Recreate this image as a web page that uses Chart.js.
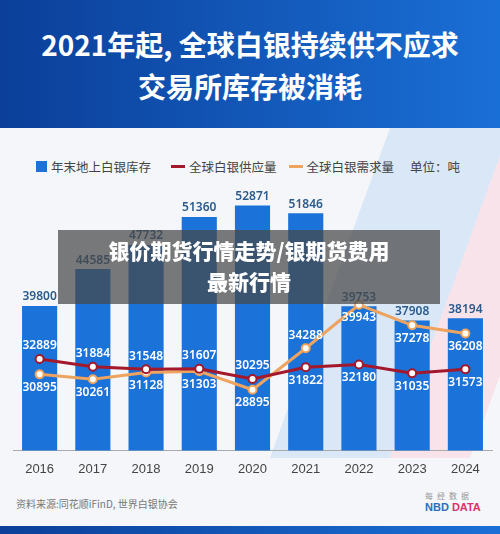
<!DOCTYPE html>
<html><head><meta charset="utf-8">
<script src="https://cdn.jsdelivr.net/npm/chart.js@4"></script>
<style>
body{margin:0;width:500px;height:534px;overflow:hidden;background:#f4f6f9;font-family:"Noto Sans CJK SC","Noto Sans",sans-serif;position:relative}
.head{position:absolute;left:0;top:0;width:500px;height:128px;background:linear-gradient(90deg,#0b3f99,#1a6fd6);color:#fff;text-align:center;font-weight:700;font-size:28px;line-height:42px;padding-top:23px;box-sizing:border-box}
.deco1{position:absolute;left:330px;top:128px;width:120px;height:330px;background:rgba(190,215,245,0.5);transform:skewX(-20deg)}
.deco2{position:absolute;left:450px;top:128px;width:80px;height:330px;background:rgba(250,215,225,0.6);transform:skewX(-20deg)}
.legend{position:absolute;top:157px;left:36px;font-size:12.5px;color:#444;display:flex;align-items:center;white-space:nowrap}
.legend span{display:inline-block;margin-right:4px}
#wrap{position:absolute;left:0;top:180px;width:500px;height:300px}
.ov{position:absolute;left:58px;top:230px;width:382px;height:74px;background:rgba(70,70,70,0.72);color:#fff;font-weight:900;font-size:21px;line-height:31px;text-align:center;padding-top:5px;box-sizing:border-box}
.src{position:absolute;left:16px;top:496px;font-size:10px;color:#777}
.logo{position:absolute;left:425px;top:490px;font-size:8px;color:#999;letter-spacing:4px}
.logo b{display:block;font-size:11px;letter-spacing:0;font-family:"Liberation Sans";color:#2a6cc0}
.logo b i{font-style:normal;color:#e0306a}
.foot{position:absolute;left:0;top:526px;width:500px;height:8px;background:linear-gradient(90deg,#0b3f99,#1a6fd6)}
</style></head><body>
<div class="deco1"></div><div class="deco2"></div>
<div class="head">2021年起, 全球白银持续供不应求<br>交易所库存被消耗</div>
<div class="legend">
<span style="width:11px;height:11px;background:#1b72d8"></span><span style="margin-right:20px">年末地上白银库存</span>
<span style="width:14px;height:3px;background:#a3182b"></span><span style="margin-right:12px">全球白银供应量</span>
<span style="width:14px;height:3px;background:#eea35f"></span><span style="margin-right:16px">全球白银需求量</span>
<span>单位：吨</span></div>
<div id="wrap"><canvas id="c"></canvas></div>
<div class="ov">银价期货行情走势/银期货费用<br>最新行情</div>
<div class="src">资料来源:同花顺iFinD, 世界白银协会</div>
<div class="logo">每经数据<b>NBD <i>DATA</i></b></div>
<div class="foot"></div>
<script>
const years = ['2016','2017','2018','2019','2020','2021','2022','2023','2024'];
const stock = [39800, 44585, 47732, 51360, 52871, 51846, 39753, 37908, 38194];
const supply = [32889, 31884, 31548, 31607, 30295, 31822, 32180, 31035, 31573];
const demand = [30895, 30261, 31128, 31303, 28895, 34288, 39943, 37278, 36208];
const supplyPos = ['top','top','top','top','top','bottom','bottom','bottom','bottom'];
const demandPos = ['bottom','bottom','bottom','bottom','bottom','top','bottom','bottom','bottom'];

const labelPlugin = {
    id: 'labels',
    afterDatasetsDraw(chart) {
        const ctx = chart.ctx;
        ctx.save();
        ctx.textAlign = 'center';
        ctx.font = '600 12px "Noto Sans", sans-serif';
        chart.getDatasetMeta(0).data.forEach((el, i) => {
            ctx.fillStyle = '#2b5b8c';
            ctx.textBaseline = 'bottom';
            ctx.fillText(stock[i], el.x, el.y - 3);
        });
        [[1, supply, supplyPos], [2, demand, demandPos]].forEach(([d, vals, pos]) => {
            chart.getDatasetMeta(d).data.forEach((el, i) => {
                ctx.fillStyle = '#ffffff';
                ctx.textBaseline = pos[i] === 'top' ? 'bottom' : 'top';
                ctx.fillText(vals[i], el.x, pos[i] === 'top' ? el.y - 7 : el.y + 7);
            });
        });
        ctx.restore();
    }
};

new Chart(document.getElementById('c'), {
    data: {
        labels: years,
        datasets: [
            { type: 'bar', data: stock, backgroundColor: '#1b72d8', barPercentage: 0.66, categoryPercentage: 1, order: 3 },
            { type: 'line', data: supply, borderColor: '#a3182b', borderWidth: 3, pointRadius: 4, pointBackgroundColor: '#fff', pointBorderColor: '#a3182b', pointBorderWidth: 2, order: 1 },
            { type: 'line', data: demand, borderColor: '#eea35f', borderWidth: 3, pointRadius: 4, pointBackgroundColor: '#fff', pointBorderColor: '#eea35f', pointBorderWidth: 2, order: 2 }
        ]
    },
    options: {
        responsive: true, maintainAspectRatio: false, animation: false,
        layout: { padding: { left: 13, right: 8, top: 6 } },
        plugins: { legend: { display: false }, tooltip: { enabled: false } },
        scales: {
            x: { offset: true, grid: { display: false }, border: { color: '#aaa' },
                 ticks: { color: '#444', font: { size: 13 }, padding: 3 } },
            y: { display: false, min: 21000, max: 55400 }
        }
    },
    plugins: [labelPlugin]
});
</script>
</body></html>
